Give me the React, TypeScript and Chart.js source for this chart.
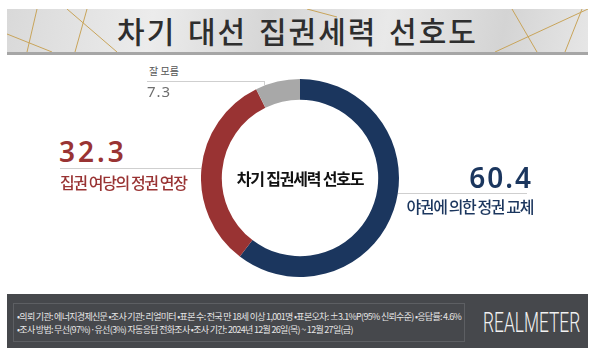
import React, { useEffect, useRef } from "react";
import { Chart, registerables } from "chart.js";

Chart.register(...registerables);

const categories = ["야권에 의한 정권 교체", "집권 여당의 정권 연장", "잘 모름"];
const values = [60.4, 32.3, 7.3];
const colors = ["#1b365e", "#993333", "#a8a8a8"];
const titleText = "차기 대선 집권세력 선호도";
const centerText = "차기 집권세력 선호도";
const footerLines = [
  "•의뢰 기관: 에너지경제신문  •조사 기관: 리얼미터 •표본 수: 전국 만 18세 이상 1,001명 •표본오차: ±3.1%P(95% 신뢰수준) •응답률: 4.6%",
  "•조사 방법: 무선(97%)·유선(3%) 자동응답 전화조사 •조사 기간: 2024년 12월 26일(목) ~ 12월 27일(금)",
];
const brand = "REALMETER";

const KR = '"Noto Sans CJK KR", "Noto Sans", sans-serif';
const NUM = '"Noto Sans", "Open Sans", sans-serif';

export default function App() {
  const ref = useRef<HTMLCanvasElement>(null);
  useEffect(() => {
    if (!ref.current) return;
    const chart = new Chart(ref.current, {
      type: "doughnut",
      data: {
        labels: categories,
        datasets: [
          {
            data: values,
            backgroundColor: colors,
            borderWidth: 0,
          },
        ],
      },
      options: {
        responsive: false,
        animation: false,
        cutout: "79%",
        layout: { padding: 0 },
        plugins: { legend: { display: false }, tooltip: { enabled: false } },
      },
    });
    return () => chart.destroy();
  }, []);

  const abs = (s: React.CSSProperties): React.CSSProperties => ({ position: "absolute", ...s });

  return (
    <div style={abs({ left: 0, top: 0, width: 600, height: 357, background: "#fff", overflow: "hidden", fontFamily: KR })}>
      {/* Title banner */}
      <div
        style={abs({
          left: 7,
          top: 9,
          width: 581,
          height: 46,
          background: "linear-gradient(100deg, #d9d9d9 0%, #ececec 25%, #d6d6d6 45%, #e9e9e9 65%, #d4d4d4 85%, #e6e6e6 100%)",
          borderBottom: "3px solid #a6a6a6",
          boxSizing: "border-box",
        })}
      >
        <svg width={581} height={43} style={{ position: "absolute", left: 0, top: 0 }}>
          <g stroke="#c8a45a" strokeWidth={1} fill="none">
            <line x1={30} y1={0} x2={20} y2={43} />
            <line x1={0} y1={25} x2={45} y2={43} />
            <line x1={60} y1={0} x2={110} y2={43} />
            <line x1={80} y1={0} x2={68} y2={43} />
            <line x1={300} y1={0} x2={330} y2={8} />
            <line x1={505} y1={0} x2={530} y2={43} />
            <line x1={488} y1={43} x2={581} y2={0} />
            <line x1={575} y1={0} x2={558} y2={43} />
          </g>
        </svg>
        <div
          style={abs({
            left: 0,
            top: 0,
            width: 581,
            height: 43,
            lineHeight: "43px",
            textAlign: "center",
            fontSize: 30,
            fontWeight: 500,
            color: "#2e2e2e",
            letterSpacing: 2,
            wordSpacing: 3,
          })}
        >
          {titleText}
        </div>
      </div>

      {/* Doughnut */}
      <canvas ref={ref} width={198} height={198} style={abs({ left: 201, top: 79, width: 198, height: 198 })} />
      <div
        style={abs({
          left: 200,
          top: 166,
          width: 200,
          textAlign: "center",
          fontSize: 16,
          fontWeight: 700,
          letterSpacing: -1.2,
          color: "#111",
          lineHeight: "24px",
        })}
      >
        {centerText}
      </div>

      {/* 잘 모름 */}
      <div style={abs({ left: 149, top: 64, fontSize: 10, color: "#555", lineHeight: "14px" })}>{categories[2]}</div>
      <div style={abs({ left: 147, top: 81, width: 118, height: 0, borderTop: "1px solid #cfcfcf" })} />
      <div style={abs({ left: 264, top: 81, width: 0, height: 5, borderLeft: "1px solid #cfcfcf" })} />
      <div style={abs({ left: 147, top: 81, fontSize: 15, color: "#6e6e6e", fontFamily: NUM, lineHeight: "20px", letterSpacing: 1 })}>
        {values[2].toFixed(1)}
      </div>

      {/* 32.3 */}
      <div
        style={abs({
          left: 59,
          top: 133,
          fontSize: 28,
          fontWeight: 600,
          color: "#993333",
          fontFamily: NUM,
          lineHeight: "36px",
          letterSpacing: 3,
        })}
      >
        {values[1].toFixed(1)}
      </div>
      <div style={abs({ left: 60, top: 168, width: 141, height: 0, borderTop: "1px solid #cfcfcf" })} />
      <div
        style={abs({
          left: 60,
          top: 171,
          fontSize: 16,
          fontWeight: 500,
          color: "#993333",
          lineHeight: "22px",
          letterSpacing: -1.4,
          whiteSpace: "nowrap",
        })}
      >
        {categories[1]}
      </div>

      {/* 60.4 */}
      <div
        style={abs({
          left: 400,
          width: 133,
          textAlign: "right",
          top: 159,
          fontSize: 28,
          fontWeight: 600,
          color: "#1b365e",
          fontFamily: NUM,
          lineHeight: "36px",
          letterSpacing: 2,
        })}
      >
        {values[0].toFixed(1)}
      </div>
      <div style={abs({ left: 398, top: 193, width: 129, height: 0, borderTop: "1px solid #cfcfcf" })} />
      <div
        style={abs({
          left: 370,
          width: 163,
          textAlign: "right",
          top: 195,
          fontSize: 16,
          fontWeight: 500,
          color: "#1b365e",
          lineHeight: "22px",
          letterSpacing: -1.4,
          whiteSpace: "nowrap",
        })}
      >
        {categories[0]}
      </div>

      {/* Footer */}
      <div style={abs({ left: 7, top: 294, width: 581, height: 54, background: "#46484c" })}>
        <div
          style={abs({
            left: 6,
            top: 9,
            width: 452,
            height: 39,
            border: "1px solid #5d5f63",
            boxSizing: "border-box",
          })}
        />
        {footerLines.map((t, i) => (
          <div
            key={i}
            style={abs({
              left: 10,
              top: 17 + i * 13,
              fontSize: 9,
              color: "#e6e6e6",
              whiteSpace: "nowrap",
              lineHeight: "12px",
              letterSpacing: -0.7,
            })}
          >
            {t}
          </div>
        ))}
        <div
          style={abs({
            left: 476,
            top: 12,
            width: 160,
            height: 34,
            lineHeight: "34px",
            fontSize: 28,
            fontWeight: 300,
            fontFamily: "Roboto, sans-serif",
            color: "#f2f2f2",
            transform: "scaleX(0.62)",
            transformOrigin: "0 50%",
            whiteSpace: "nowrap",
          })}
        >
          {brand}
        </div>
      </div>
    </div>
  );
}
